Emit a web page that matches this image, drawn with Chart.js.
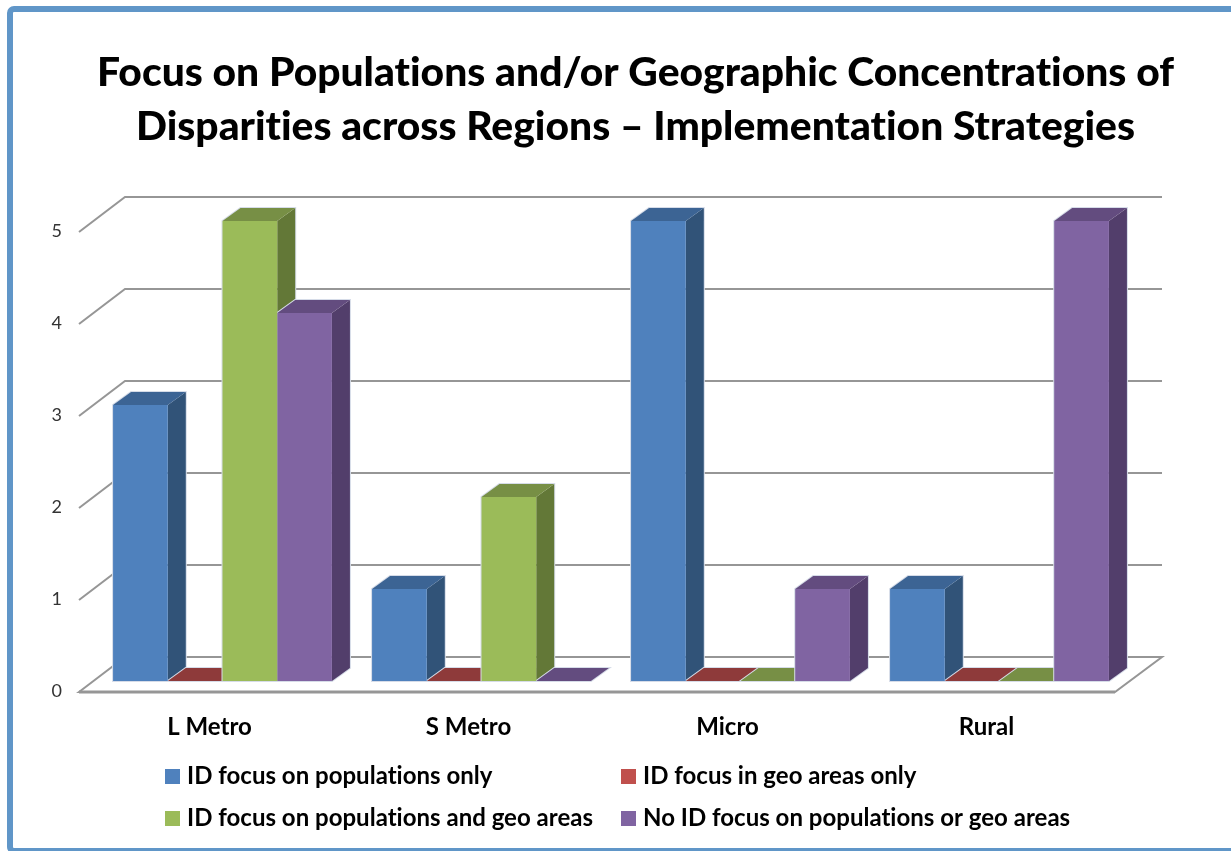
<!DOCTYPE html>
<html>
<head>
<meta charset="utf-8">
<style>
html, body { margin: 0; padding: 0; background: #fff; overflow: hidden; }
canvas { display: block; }
</style>
<script src="https://cdn.jsdelivr.net/npm/chart.js@4"></script>
</head>
<body>
<canvas id="chart" width="1231" height="851"></canvas>
<script>
const titleLines = [
    'Focus on Populations and/or Geographic Concentrations of',
    'Disparities across Regions \u2013 Implementation Strategies'
];
const regions = ['L Metro', 'S Metro', 'Micro', 'Rural'];
const seriesNames = [
    'ID focus on populations only',
    'ID focus in geo areas only',
    'ID focus on populations and geo areas',
    'No ID focus on populations or geo areas'
];
const popsOnly = [3, 1, 5, 1];
const geoOnly = [0, 0, 0, 0];
const popsAndGeo = [5, 2, 0, 0];
const noFocus = [4, 0, 1, 5];

const frontColors = ['#4f81bd', '#c0504d', '#9bbb59', '#8064a2'];
const sideColors = ['#315378', '#7d3330', '#637837', '#523e6b'];
const topColors = ['#3c6494', '#8e3a3a', '#778f45', '#634c7f'];
const gridColor = '#969696';
const haloColor = '#d6dce8';

// the bar depth and the wall offsets of the fake 3D look
const barDx = 18, barDy = -13;
const wallBack = { x: 1162, left: 125, dy: -24 };
const wallFront = { x: 79, right: 1115, dy: 11 };

function poly(ctx, pts, color) {
    ctx.beginPath();
    ctx.moveTo(pts[0][0], pts[0][1]);
    for (let i = 1; i < pts.length; i++) ctx.lineTo(pts[i][0], pts[i][1]);
    ctx.closePath();
    ctx.fillStyle = color;
    ctx.fill();
}

const frame = {
    id: 'frame',
    beforeDraw(chart) {
        const ctx = chart.ctx;
        // no ti ligatures, the reference font has none
        ctx.letterSpacing = '0.01px';
        ctx.save();
        ctx.fillStyle = '#fff';
        ctx.fillRect(0, 0, chart.width, chart.height);
        ctx.strokeStyle = '#6096c8';
        ctx.lineWidth = 6;
        ctx.beginPath();
        ctx.roundRect(10, 9, 1250, 842, 4);
        ctx.stroke();
        ctx.restore();
    }
};

const walls = {
    id: 'walls',
    beforeDatasetsDraw(chart) {
        const ctx = chart.ctx, y = chart.scales.y;
        ctx.save();
        ctx.strokeStyle = gridColor;
        y.ticks.forEach((t) => {
            const py = y.getPixelForValue(t.value);
            ctx.lineWidth = 2;
            ctx.beginPath();
            ctx.moveTo(wallFront.x, py + wallFront.dy);
            ctx.lineTo(wallBack.left, py + wallBack.dy);
            ctx.lineTo(wallBack.x, py + wallBack.dy);
            if (t.value === 0) {
                ctx.lineTo(wallFront.right, py + wallFront.dy);
                ctx.closePath();
            }
            ctx.stroke();
            if (t.value === 0) {
                // the front edge of the floor is heavier
                ctx.lineWidth = 3;
                ctx.beginPath();
                ctx.moveTo(wallFront.x, py + wallFront.dy);
                ctx.lineTo(wallFront.right, py + wallFront.dy);
                ctx.stroke();
            }
        });
        ctx.restore();
    }
};

const depth = {
    id: 'depth',
    beforeDatasetsDraw(chart) {
        const ctx = chart.ctx, base = chart.scales.y.getPixelForValue(0);
        ctx.save();
        regions.forEach((r, i) => {
            chart.data.datasets.forEach((ds, d) => {
                const bar = chart.getDatasetMeta(d).data[i];
                const half = bar.width / 2;
                const l = bar.x - half, rgt = bar.x + half, t = bar.y;
                ctx.beginPath();
                ctx.moveTo(l, base);
                ctx.lineTo(l, t);
                ctx.lineTo(l + barDx, t + barDy);
                ctx.lineTo(rgt + barDx, t + barDy);
                ctx.lineTo(rgt + barDx, base + barDy);
                ctx.lineTo(rgt, base);
                ctx.closePath();
                ctx.strokeStyle = haloColor;
                ctx.lineWidth = 2;
                ctx.stroke();
                poly(ctx, [[rgt, t], [rgt + barDx, t + barDy], [rgt + barDx, base + barDy], [rgt, base]], sideColors[d]);
                poly(ctx, [[l, t], [rgt, t], [rgt + barDx, t + barDy], [l + barDx, t + barDy]], topColors[d]);
            });
        });
        ctx.restore();
    }
};

const gridLegend = {
    id: 'gridLegend',
    afterDraw(chart) {
        const ctx = chart.ctx;
        const cols = [165, 621], rows = [776, 818];
        ctx.save();
        ctx.font = 'bold 24px Lato';
        ctx.textBaseline = 'middle';
        chart.data.datasets.forEach((ds, i) => {
            const x = cols[i % 2], y = rows[Math.floor(i / 2)];
            ctx.fillStyle = ds.backgroundColor;
            ctx.fillRect(x, y - 7, 15, 15);
            ctx.fillStyle = '#000';
            ctx.fillText(ds.label, x + 22, y);
        });
        ctx.restore();
    }
};

// the title is centred on the whole frame, not on the plot
const moveTitle = {
    id: 'moveTitle',
    afterLayout(chart) {
        chart.titleBlock.left = 40;
        chart.titleBlock.right = chart.width;
    }
};

new Chart(document.getElementById('chart').getContext('2d'), {
    type: 'bar',
    data: {
        labels: regions,
        datasets: [popsOnly, geoOnly, popsAndGeo, noFocus].map((values, i) => ({
            label: seriesNames[i],
            data: values,
            backgroundColor: frontColors[i],
            categoryPercentage: 0.845,
            barPercentage: 1
        }))
    },
    options: {
        responsive: false,
        animation: false,
        layout: { padding: { left: 40, right: 102, top: 0, bottom: 0 } },
        plugins: {
            legend: { display: false },
            tooltip: { enabled: false },
            title: {
                display: true,
                text: titleLines,
                color: '#000',
                font: { family: 'Lato', size: 40.8, weight: 900, lineHeight: 1.324 },
                padding: { top: 46, bottom: 67 }
            }
        },
        scales: {
            x: {
                grid: { display: false },
                border: { display: false },
                afterFit(scale) { scale.height = 170; },
                ticks: {
                    color: '#000',
                    font: { family: 'Lato', size: 24, weight: 'bold' },
                    padding: 24,
                    labelOffset: -13,
                    maxRotation: 0
                }
            },
            y: {
                min: 0,
                max: 5,
                grid: { display: false },
                border: { display: false },
                afterFit(scale) { scale.width = 53; },
                ticks: {
                    stepSize: 1,
                    color: '#333',
                    font: { family: 'Lato', size: 18 },
                    padding: 23,
                    labelOffset: 10
                }
            }
        }
    },
    plugins: [frame, walls, depth, gridLegend, moveTitle]
});
</script>
</body>
</html>
